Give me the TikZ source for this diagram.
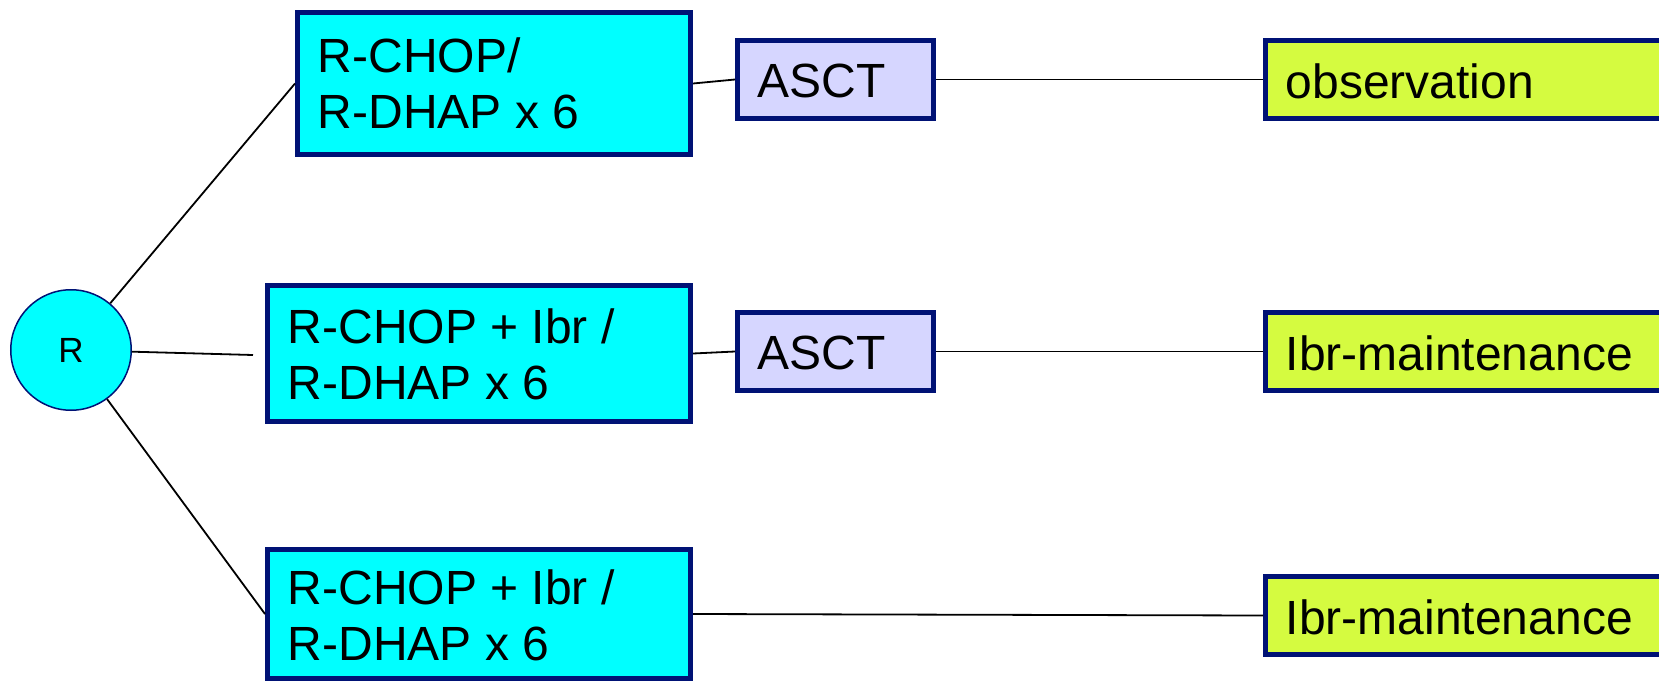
\documentclass[tikz,border=0pt]{standalone}
\usepackage{fontspec}
\setmainfont{Liberation Sans}
\definecolor{navy}{RGB}{0,18,117}
\definecolor{armcyan}{RGB}{0,255,255}
\definecolor{lavender}{RGB}{214,214,255}
\definecolor{lime}{RGB}{213,251,64}
\begin{document}
\begin{tikzpicture}[x=0.5pt,y=-0.5pt,
  box/.style={draw=navy, line width=2.5pt, rectangle, inner sep=0pt},
  armbox/.style={box, fill=armcyan, minimum width=211.5pt},
  asctbox/.style={box, fill=lavender, minimum width=98pt, minimum height=39pt},
  followbox/.style={box, fill=lime, minimum width=226pt, minimum height=39pt},
  rand/.style={circle, draw=navy, line width=0.75pt, fill=armcyan, minimum size=60.25pt,
    inner sep=0pt, font=\fontsize{17.5}{20}\selectfont},
  lbl/.style={anchor=west, inner sep=0pt, align=left, font=\fontsize{24}{28}\selectfont},
  link/.style={draw=black, line width=0.9pt}]
\useasboundingbox (0,0) rectangle (1659,680);
\clip (0,0) rectangle (1659,680);

% randomisation point and the free end of its middle branch
\coordinate (c2) at (253,355);
\node[rand] (R) at (71,350) {R};

% induction arms
\node[armbox, minimum width=196.5pt, minimum height=71pt] (b1) at (494,83.5) {};
\node[armbox, minimum height=68pt] (b2) at (479,353.5) {};
\node[armbox, minimum height=64.5pt] (b3) at (479,614) {};

% transplant
\node[asctbox] (a1) at (835.5,79.5) {};
\node[asctbox] (a2) at (835.5,351.5) {};

% follow-up
\node[followbox] (g1) at (1491.5,79.5) {};
\node[followbox] (g2) at (1491.5,351.5) {};
\node[followbox] (g3) at (1491.5,615.5) {};

% connectors
\draw[link] (R) -- (b1.west);
\draw[link] (R) -- (c2);
\draw[link] (R) -- (b3.west);
\draw[link] (b1.east) -- (a1.west);
\draw[link] (b2.east) -- (a2.west);
\draw[link] (a1.east) -- (g1.west);
\draw[link] (a2.east) -- (g2.west);
\draw[link] (b3.east) -- (g3.west);

% labels
\node[lbl] (t1) at ([xshift=11.25pt]b1.west) {R-CHOP/\\R-DHAP x 6};
\node[lbl] (t2) at ([xshift=11.25pt,yshift=-0.5pt]b2.west) {R-CHOP + Ibr /\\R-DHAP x 6};
\node[lbl] (t3) at ([xshift=11.25pt,yshift=-0.5pt]b3.west) {R-CHOP + Ibr /\\R-DHAP x 6};
\node[lbl] (ta1) at ([xshift=11.25pt,yshift=-0.75pt]a1.west) {ASCT};
\node[lbl] (ta2) at ([xshift=11.25pt,yshift=-0.75pt]a2.west) {ASCT};
\node[lbl] (tg1) at ([xshift=11.25pt,yshift=-0.75pt]g1.west) {observation};
\node[lbl] (tg2) at ([xshift=11.25pt,yshift=-0.75pt]g2.west) {Ibr-maintenance};
\node[lbl] (tg3) at ([xshift=11.25pt,yshift=-0.75pt]g3.west) {Ibr-maintenance};
\end{tikzpicture}
\end{document}
